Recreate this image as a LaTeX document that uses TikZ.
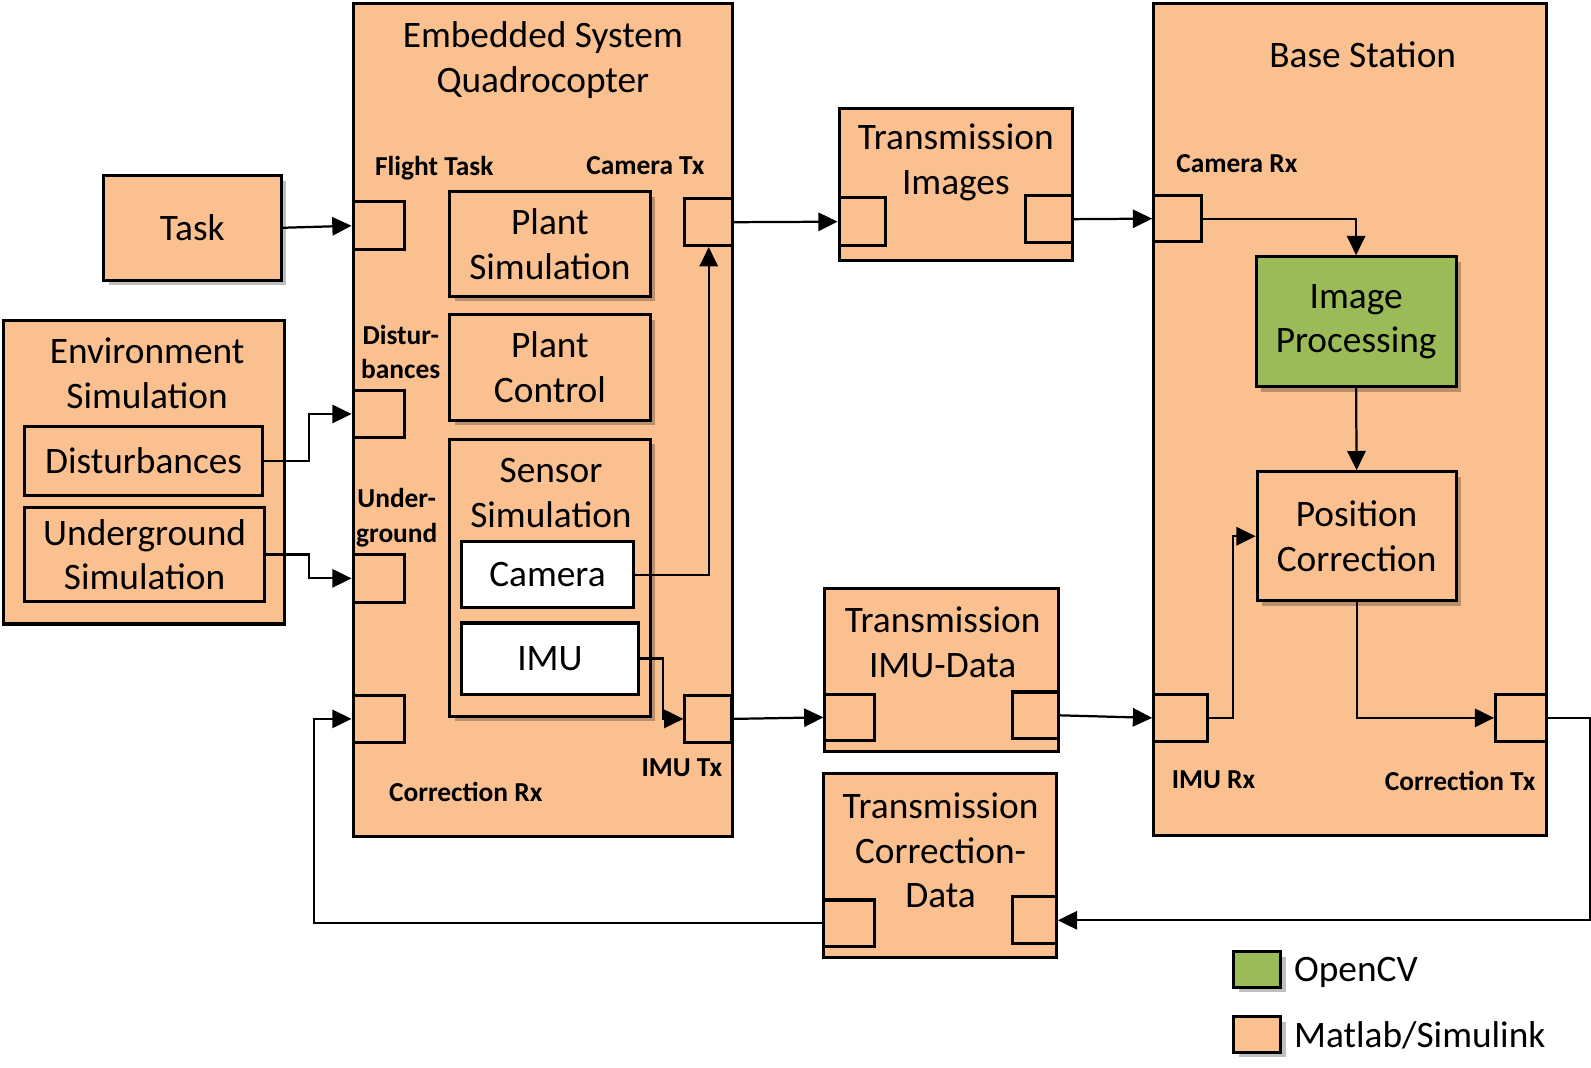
\documentclass[tikz,border=0pt]{standalone}
\usepackage{fontspec}
\setmainfont{Carlito}
\usetikzlibrary{arrows.meta, positioning, shadows}
\definecolor{simorange}{RGB}{250,192,144}
\definecolor{cvgreen}{RGB}{155,187,89}

\begin{document}
\begin{tikzpicture}[x=0.5pt, y=-0.5pt, >={Triangle[length=9.5pt, width=9pt]},
    box/.style={draw, line width=1.5pt, fill=simorange, inner sep=0pt, align=center,
        font=\fontsize{18.4}{22}\selectfont},
    shadowbox/.style={box, drop shadow={shadow xshift=2.5pt, shadow yshift=-2.5pt, fill=black, opacity=0.25}},
    port/.style={box, minimum width=25.5pt, minimum height=23.5pt},
    txt/.style={font=\fontsize{18.4}{22}\selectfont, align=center, inner sep=0pt},
    lbl/.style={font=\fontsize{13.5}{17}\selectfont\bfseries, align=center, inner sep=0pt},
    conn/.style={line width=1.1pt, ->}]
    \useasboundingbox (0,0) rectangle (1568,1052);

    % Environment
    \node[box, minimum width=138.5pt, minimum height=149.5pt] (env) at (141.5,465.5) {};
    \node[txt] (envtitle) at (145,368) {Environment\\Simulation};
    \node[box, minimum width=117.5pt, minimum height=34pt] (disturb) at (141.5,454) {Disturbances};
    \node[box, minimum width=118.5pt, minimum height=46.5pt] (under) at (142.5,546.5) {Underground\\Simulation};

    % Task
    \node[shadowbox, minimum width=87.5pt, minimum height=51.5pt] (task) at (189.5,224.5) {Task};

    % Embedded system
    \node[box, minimum width=187pt, minimum height=410.5pt] (embedded) at (535,413.5) {};
    \node[txt] (embtitle) at (535,59) {Embedded System\\Quadrocopter};
    \node[shadowbox, minimum width=99pt, minimum height=51.5pt] (plantsim) at (542,240.5) {Plant\\Simulation};
    \node[shadowbox, minimum width=99pt, minimum height=52pt] (plantctrl) at (542,362) {Plant\\Control};
    \node[shadowbox, minimum width=99pt, minimum height=136.5pt] (sensor) at (542,569.5) {};
    \node[txt] (sensortitle) at (543,486) {Sensor\\Simulation};
    \node[box, fill=white, minimum width=84.5pt, minimum height=32.5pt] (camera) at (539.5,566.5) {Camera};
    \node[box, fill=white, minimum width=87pt, minimum height=35pt] (imu) at (542,649) {IMU};

    % Ports embedded system
    \node[port] (pflight) at (373.5,222.5) {};
    \node[port] (pdist) at (373.5,408) {};
    \node[port] (punder) at (373.5,570) {};
    \node[port] (pcorrrx) at (373.5,708.5) {};
    \node[port, minimum width=23.5pt, minimum height=23pt] (pcamtx) at (698.5,219) {};
    \node[port, minimum width=23pt] (pimutx) at (698,708.5) {};
    \node[lbl] (lflight) at (428,166) {Flight Task};
    \node[lbl] (lcamtx) at (636,163) {Camera Tx};
    \node[lbl] (ldist) at (395,347) {Distur-\\bances};
    \node[lbl] (lunder) at (391,510) {Under-\\ground};
    \node[lbl] (limutx) at (672,757) {IMU Tx};
    \node[lbl] (lcorrrx) at (459,781) {Correction Rx};

    % Transmission blocks
    \node[box, minimum width=115pt, minimum height=75pt] (trimg) at (942,182) {};
    \node[txt] (trimgtitle) at (942,160) {Transmission\\Images};
    \node[port, minimum width=23pt] (trimgin) at (850,218.5) {};
    \node[port, minimum width=23pt, minimum height=23pt] (trimgout) at (1034,216) {};

    \node[box, minimum width=115pt, minimum height=80.5pt] (trimu) at (928,660.5) {};
    \node[txt] (trimutitle) at (929,633) {Transmission\\IMU-Data};
    \node[port, minimum width=24.5pt, minimum height=23pt] (trimuin) at (837.5,707) {};
    \node[port, minimum width=22.5pt, minimum height=23pt] (trimuout) at (1020.5,705) {};

    \node[box, minimum width=114.5pt, minimum height=91pt] (trcor) at (926.5,853) {};
    \node[txt] (trcortitle) at (927,838) {Transmission\\Correction-\\Data};
    \node[port, minimum width=25pt, minimum height=23pt] (trcorin) at (837,910) {};
    \node[port, minimum width=21.5pt, minimum height=23pt] (trcorout) at (1019.5,907) {};

    % Base station
    \node[box, minimum width=193.5pt, minimum height=410pt] (base) at (1330.5,413) {};
    \node[txt] (basetitle) at (1343,54) {Base Station};
    \node[port, minimum width=23.5pt, minimum height=22.5pt] (pcamrx) at (1160.5,215.5) {};
    \node[port, minimum width=26.5pt] (pimurx) at (1163.5,707.5) {};
    \node[port, minimum width=25pt] (pcortx) at (1499,707.5) {};
    \node[lbl] (lcamrx) at (1219,161) {Camera Rx};
    \node[lbl] (limurx) at (1196,768) {IMU Rx};
    \node[lbl] (lcortx) at (1439,770) {Correction Tx};
    \node[shadowbox, fill=cvgreen, minimum width=98.5pt, minimum height=64pt] (imgproc) at (1336.5,317) {Image\\Processing};
    \node[shadowbox, minimum width=98pt, minimum height=63.5pt] (poscorr) at (1337,528.5) {Position\\Correction};

    % Legend
    \node[shadowbox, fill=cvgreen, minimum width=23pt, minimum height=17.5pt] (legcv) at (1239,955.5) {};
    \node[txt, anchor=west] (legcvtext) at (1275,958) {OpenCV};
    \node[shadowbox, minimum width=23pt, minimum height=17.5pt] (legml) at (1239,1019.5) {};
    \node[txt, anchor=west] (legmltext) at (1275,1020) {Matlab/Simulink};

    % Connections
    \draw[conn] (task.east) -- (pflight.west);
    \draw[conn] (disturb.east) -- ++(44,0) |- (pdist.west);
    \draw[conn] (under.east) -- ++(42,0) |- (punder.west);
    \draw[conn] (camera.east) -| (pcamtx.south);
    \draw[conn] (imu.east) -- ++(23,0) |- (pimutx.west);
    \draw[conn] (pcamtx.east) -- (trimgin.west);
    \draw[conn] (trimgout.east) -- (pcamrx.west);
    \draw[conn] (pcamrx.east) -| (imgproc.north);
    \draw[conn] (imgproc.south) -- (poscorr.north);
    \draw[conn] (pimutx.east) -- (trimuin.west);
    \draw[conn] (trimuout.east) -- (pimurx.west);
    \draw[conn] (pimurx.east) -- ++(24,0) |- (poscorr.west);
    \draw[conn] (poscorr.south) |- (pcortx.west);
    \draw[conn] (pcortx.east) -- ++(42,0) |- (trcorout.east);
    \draw[conn] (trcorin.west) -- ++(-501,0) |- (pcorrrx.west);
\end{tikzpicture}
\end{document}
